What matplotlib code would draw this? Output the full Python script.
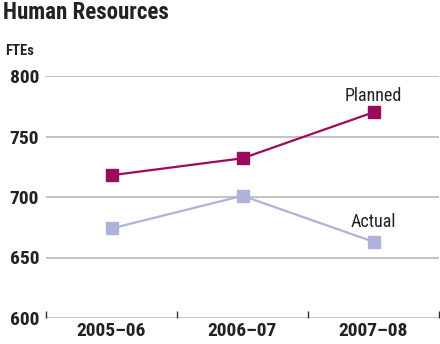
import matplotlib
matplotlib.use("Agg")
import matplotlib.pyplot as plt
from matplotlib import font_manager

names = {f.name for f in font_manager.fontManager.ttflist}
FAM = [n for n in ["Roboto Condensed", "Archivo Narrow", "DejaVu Sans"] if n in names] or ["DejaVu Sans"]
plt.rcParams['font.family'] = FAM

categories = ["2005–06", "2006–07", "2007–08"]
planned = [718, 732, 770]
actual = [674, 701, 663]
yticks = [600, 650, 700, 750, 800]

fig = plt.figure(figsize=(4.4, 3.44), dpi=100)
ax = fig.add_axes([46/440, 1-318/344, 393/440, (318-76)/344])

x = [0.5, 1.5, 2.5]
ax.set_xlim(0, 3)
ax.set_ylim(600, 800)

for v in yticks:
    ax.axhline(v, color="#bdbdbd", lw=1.3, zorder=1)

ax.plot(x, planned, color="#9c0a5c", lw=1.6, marker="s", ms=8, zorder=3)
ax.plot(x, actual, color="#aeb2dc", lw=1.6, marker="s", ms=8, zorder=3)

for s in ax.spines.values():
    s.set_visible(False)

ax.set_yticks(yticks)
ax.set_yticklabels([str(v) for v in yticks], fontsize=14, fontweight="bold", color="#222222")
ax.tick_params(axis="y", length=0, pad=5)

ax.set_xticks([0, 1, 2, 3])
ax.set_xticklabels([])
ax.tick_params(axis="x", direction="in", length=5, width=1.0, color="#333333")
ax.set_xticks(x, minor=True)
ax.set_xticklabels(categories, minor=True, fontsize=14, fontweight="bold", color="#222222")
ax.tick_params(axis="x", which="minor", length=0, pad=3)

ax.text(x[2], planned[2] + 6, "Planned", ha="center", va="bottom", fontsize=13, color="#222222")
ax.text(x[2], actual[2] + 9, "Actual", ha="center", va="bottom", fontsize=13, color="#222222")

fig.text(3/440, 1-1/344, "Human Resources", ha="left", va="top", fontsize=16.5, fontweight="bold", color="#222222")
fig.text(5/440, 1-44/344, "FTEs", ha="left", va="top", fontsize=10.5, fontweight="bold", color="#222222")

fig.savefig("out.png", dpi=100)
